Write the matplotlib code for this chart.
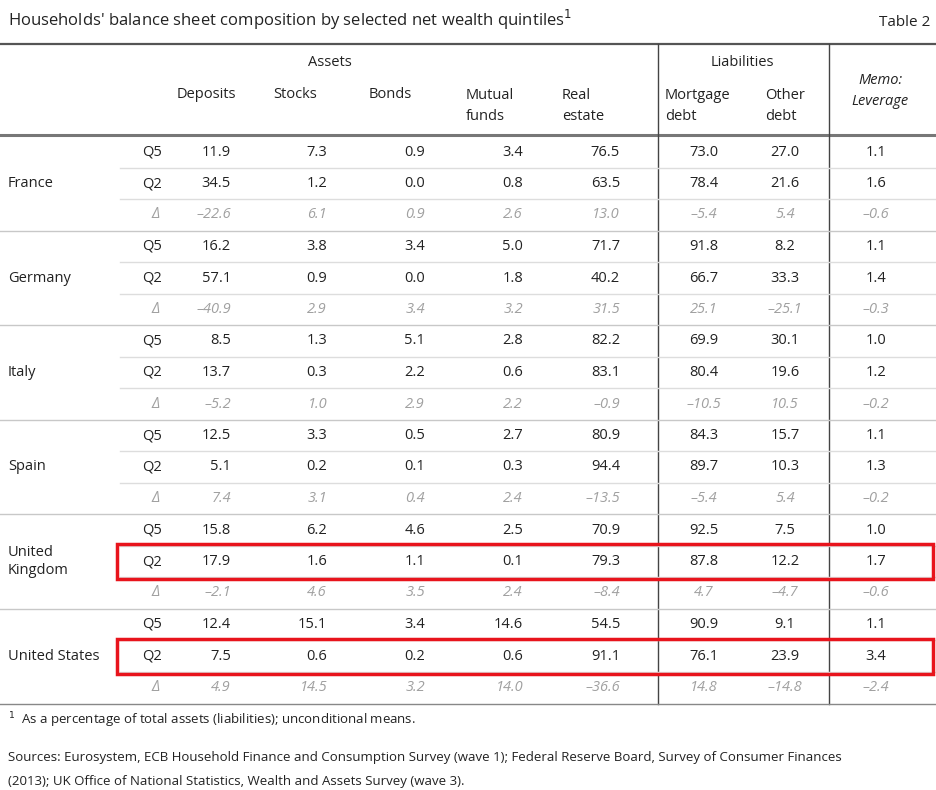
import matplotlib
matplotlib.use("Agg")
import matplotlib.pyplot as plt
from matplotlib.patches import Rectangle

countries = ["France", "Germany", "Italy", "Spain", "United\nKingdom", "United States"]
row_labels = ["Q5", "Q2", "Δ"]
columns = ["Deposits", "Stocks", "Bonds", "Mutual\nfunds", "Real\nestate", "Mortgage\ndebt", "Other\ndebt"]
values = {
    "France": [[11.9, 7.3, 0.9, 3.4, 76.5, 73.0, 27.0, 1.1],
               [34.5, 1.2, 0.0, 0.8, 63.5, 78.4, 21.6, 1.6],
               [-22.6, 6.1, 0.9, 2.6, 13.0, -5.4, 5.4, -0.6]],
    "Germany": [[16.2, 3.8, 3.4, 5.0, 71.7, 91.8, 8.2, 1.1],
                [57.1, 0.9, 0.0, 1.8, 40.2, 66.7, 33.3, 1.4],
                [-40.9, 2.9, 3.4, 3.2, 31.5, 25.1, -25.1, -0.3]],
    "Italy": [[8.5, 1.3, 5.1, 2.8, 82.2, 69.9, 30.1, 1.0],
              [13.7, 0.3, 2.2, 0.6, 83.1, 80.4, 19.6, 1.2],
              [-5.2, 1.0, 2.9, 2.2, -0.9, -10.5, 10.5, -0.2]],
    "Spain": [[12.5, 3.3, 0.5, 2.7, 80.9, 84.3, 15.7, 1.1],
              [5.1, 0.2, 0.1, 0.3, 94.4, 89.7, 10.3, 1.3],
              [7.4, 3.1, 0.4, 2.4, -13.5, -5.4, 5.4, -0.2]],
    "United\nKingdom": [[15.8, 6.2, 4.6, 2.5, 70.9, 92.5, 7.5, 1.0],
                        [17.9, 1.6, 1.1, 0.1, 79.3, 87.8, 12.2, 1.7],
                        [-2.1, 4.6, 3.5, 2.4, -8.4, 4.7, -4.7, -0.6]],
    "United States": [[12.4, 15.1, 3.4, 14.6, 54.5, 90.9, 9.1, 1.1],
                      [7.5, 0.6, 0.2, 0.6, 91.1, 76.1, 23.9, 3.4],
                      [4.9, 14.5, 3.2, 14.0, -36.6, 14.8, -14.8, -2.4]],
}
highlight = [("United\nKingdom", 1), ("United States", 1)]

plt.rcParams['font.family'] = ['Open Sans', 'DejaVu Sans']
W, H = 936, 790
fig = plt.figure(figsize=(W/100, H/100), dpi=100)
ax = fig.add_axes([0, 0, 1, 1])
ax.set_xlim(0, W); ax.set_ylim(H, 0); ax.axis('off')
fs = 10.5
dark = "#222222"; grey = "#a0a0a0"

ax.text(8, 20, "Households' balance sheet composition by selected net wealth quintiles$^1$",
        fontsize=12, va='center', color=dark)
ax.text(930, 22, "Table 2", fontsize=11, va='center', ha='right', color=dark)

ax.plot([0, 936], [44, 44], color="#555555", lw=1.6)
ax.plot([0, 936], [135, 135], color="#777777", lw=2.2)
vx = [658, 829]
for x in vx:
    ax.plot([x, x], [44, 704], color="#444444", lw=1.0)

ax.text(330, 62, "Assets", fontsize=fs, ha='center', va='center', color=dark)
ax.text(742, 62, "Liabilities", fontsize=fs, ha='center', va='center', color=dark)
ax.text(880, 91, "Memo:\nLeverage", fontsize=fs, ha='center', va='center', style='italic',
        color=dark, linespacing=1.5)
hx = [177, 273, 369, 466, 562, 665, 765]
for x, c in zip(hx, columns):
    y = 95 if "\n" not in c else 106
    ax.text(x, y, c, fontsize=fs, ha='left', va='center', color=dark, linespacing=1.5)

rx = [231, 327, 425, 523, 620, 704, 785, 876]   # anchors
has = ['right'] * 5 + ['center'] * 3
row_h = 31.5
y0 = 152
for gi, c in enumerate(countries):
    for ri, rl in enumerate(row_labels):
        y = y0 + (gi * 3 + ri) * row_h
        delta = ri == 2
        col = grey if delta else dark
        st = 'italic' if delta else 'normal'
        ax.text(162 if not delta else 160, y, rl, fontsize=fs, ha='right', va='center', color=col, style=st)
        for x, ha, v in zip(rx, has, values[c][ri]):
            s = f"{v:.1f}".replace("-", "–")
            ax.text(x, y, s, fontsize=fs, ha=ha, va='center', color=col, style=st)
        if ri < 2:
            yl = y + row_h / 2
            ax.plot([120, 936], [yl, yl], color="#dddddd", lw=1.0)
    ax.text(8, y0 + (gi * 3 + 1) * row_h, c, fontsize=fs, ha='left', va='center', color=dark, linespacing=1.3)
    if gi < len(countries) - 1:
        yl = y0 + (gi * 3 + 2) * row_h + row_h / 2
        ax.plot([0, 936], [yl, yl], color="#c8c8c8", lw=1.0)
ax.plot([0, 936], [704, 704], color="#888888", lw=1.0)

for c, ri in highlight:
    gi = countries.index(c)
    y = y0 + (gi * 3 + ri) * row_h
    ax.add_patch(Rectangle((117, y - 17.5), 816, 35, fill=False, edgecolor="#e8141c", lw=2.5, zorder=5))

ax.text(8, 720, "$^1$  As a percentage of total assets (liabilities); unconditional means.",
        fontsize=9.5, va='center', color=dark)
ax.text(8, 757, "Sources: Eurosystem, ECB Household Finance and Consumption Survey (wave 1); Federal Reserve Board, Survey of Consumer Finances",
        fontsize=9.5, va='center', color=dark)
ax.text(8, 781, "(2013); UK Office of National Statistics, Wealth and Assets Survey (wave 3).",
        fontsize=9.5, va='center', color=dark)

fig.savefig("out.png", dpi=100)
